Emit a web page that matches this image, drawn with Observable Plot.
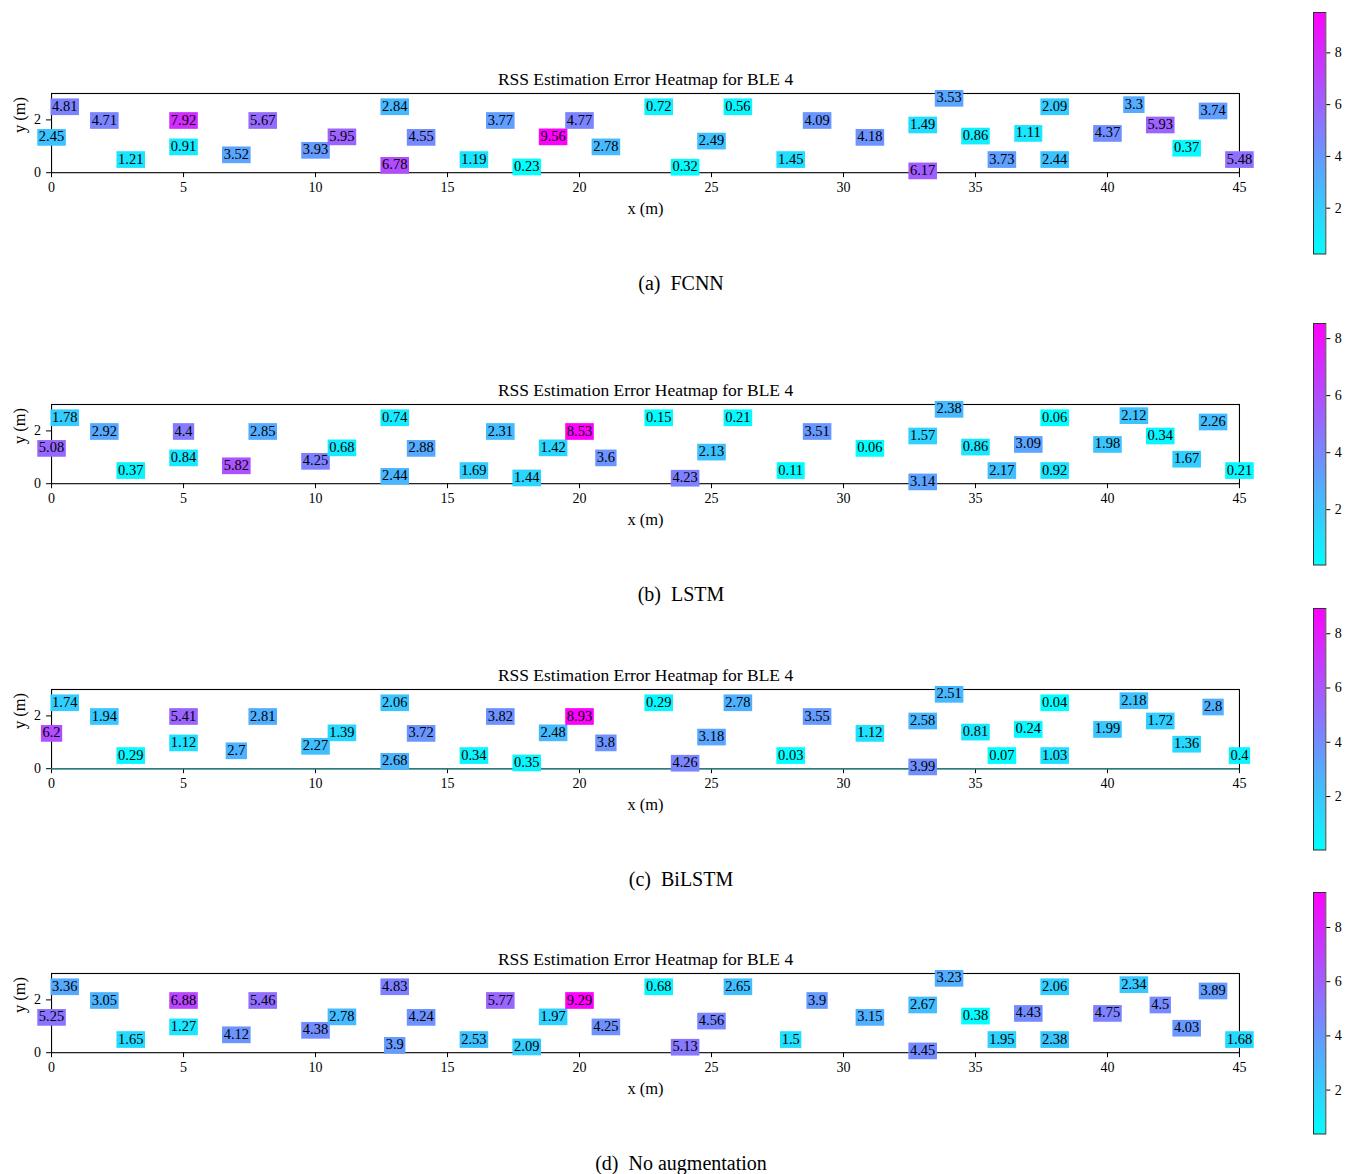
<!DOCTYPE html>
<html>
<head>
<meta charset="utf-8">
<script src="https://cdn.jsdelivr.net/npm/d3@7"></script>
<script src="https://cdn.jsdelivr.net/npm/@observablehq/plot@0.6"></script>
<style>
  body { margin: 0; background: #fff; }
  #fig { position: relative; width: 1347px; height: 1174px; background: #fff;
         font-family: "Liberation Serif", "Times New Roman", serif; color: #000; }
  .slot { position: absolute; }
  .slot svg { display: block; max-width: none; }
  .caption { position: absolute; font-size: 20px; white-space: pre; transform: translate(-50%, -50%); }
</style>
</head>
<body>
<div id="fig"></div>
<script>
// Test-point coordinates (metres), shared by all four models
const px = [0.5, 2, 0, 3, 5, 5, 7, 8, 10, 11, 13, 14, 13, 16, 17, 18, 19, 20, 21, 23,
            24, 25, 26, 28, 29, 31, 33, 33, 34, 35, 36, 37, 38, 38, 40, 41, 42, 43, 44, 45];
const py = [2.52, 2.0, 1.36, 0.52, 2.0, 1.0, 0.7, 2.0, 0.87, 1.38, 2.52, 1.36, 0.3, 0.52, 2.0, 0.24, 1.38, 2.0, 1.0, 2.52,
            0.23, 1.22, 2.52, 0.52, 2.0, 1.36, 1.83, 0.09, 2.84, 1.41, 0.52, 1.51, 2.52, 0.52, 1.51, 2.6, 1.83, 0.95, 2.36, 0.52];

// RSS estimation error per test point
const fcnn = [4.81, 4.71, 2.45, 1.21, 7.92, 0.91, 3.52, 5.67, 3.93, 5.95, 2.84, 4.55, 6.78, 1.19, 3.77, 0.23, 9.56, 4.77, 2.78, 0.72,
              0.32, 2.49, 0.56, 1.45, 4.09, 4.18, 1.49, 6.17, 3.53, 0.86, 3.73, 1.11, 2.09, 2.44, 4.37, 3.3, 5.93, 0.37, 3.74, 5.48];
const lstm = [1.78, 2.92, 5.08, 0.37, 4.4, 0.84, 5.82, 2.85, 4.25, 0.68, 0.74, 2.88, 2.44, 1.69, 2.31, 1.44, 1.42, 8.53, 3.6, 0.15,
              4.23, 2.13, 0.21, 0.11, 3.51, 0.06, 1.57, 3.14, 2.38, 0.86, 2.17, 3.09, 0.06, 0.92, 1.98, 2.12, 0.34, 1.67, 2.26, 0.21];
const bilstm = [1.74, 1.94, 6.2, 0.29, 5.41, 1.12, 2.7, 2.81, 2.27, 1.39, 2.06, 3.72, 2.68, 0.34, 3.82, 0.35, 2.48, 8.93, 3.8, 0.29,
                4.26, 3.18, 2.78, 0.03, 3.55, 1.12, 2.58, 3.99, 2.51, 0.81, 0.07, 0.24, 0.04, 1.03, 1.99, 2.18, 1.72, 1.36, 2.8, 0.4];
const noAug = [3.36, 3.05, 5.25, 1.65, 6.88, 1.27, 4.12, 5.46, 4.38, 2.78, 4.83, 4.24, 3.9, 2.53, 5.77, 2.09, 1.97, 9.29, 4.25, 0.68,
               5.13, 4.56, 2.65, 1.5, 3.9, 3.15, 2.67, 4.45, 3.23, 0.38, 1.95, 4.43, 2.06, 2.38, 4.75, 2.34, 4.5, 4.03, 3.89, 1.68];

const subLabels = ["(a)", "(b)", "(c)", "(d)"];
const modelNames = ["FCNN", "LSTM", "BiLSTM", "No augmentation"];
const seriesList = [fcnn, lstm, bilstm, noAug];

const xTicks = [0, 5, 10, 15, 20, 25, 30, 35, 40, 45];
const yTicks = [0, 2];
const cbarTicks = [2, 4, 6, 8];
const titleText = "RSS Estimation Error Heatmap for BLE 4";

// page layout
const axesTops = [93.3, 404, 689, 973.3];
const FONT = '"Liberation Serif", "Times New Roman", serif';
const M = {top: 40, bottom: 60, left: 51, right: 108};
const axesH = 79.2;
const coolRange = ["#00ffff", "#ff00ff"];
const boxFont = 14.5;
const tickFont = 14;

const fig = document.getElementById("fig");

// draws a filled box behind each label, using the mark's own color channel
function boxedLabels(labels, fs, padX, boxH) {
  const ctx = document.createElement("canvas").getContext("2d");
  ctx.font = `${fs}px "Liberation Serif"`;
  return (index, scales, values, dimensions, context, next) => {
    const g = next(index, scales, values, dimensions, context);
    const ns = "http://www.w3.org/2000/svg";
    const back = document.createElementNS(ns, "g");
    for (const i of index) {
      const w = ctx.measureText(labels[i]).width + 2 * padX;
      const r = document.createElementNS(ns, "rect");
      r.setAttribute("x", values.x[i] - w / 2);
      r.setAttribute("y", values.y[i] - boxH / 2 + 0.6);
      r.setAttribute("width", w);
      r.setAttribute("height", boxH);
      r.setAttribute("fill", values.fill[i]);
      back.appendChild(r);
    }
    for (const t of g.querySelectorAll("text")) t.setAttribute("fill", "#000");
    g.insertBefore(back, g.firstChild);
    return g;
  };
}

function place(el, left, top) {
  const d = document.createElement("div");
  d.className = "slot";
  d.style.left = left + "px";
  d.style.top = top + "px";
  d.appendChild(el);
  fig.appendChild(d);
}

const baseStyle = {fontFamily: FONT, fontSize: tickFont + "px", color: "#000", background: "transparent", overflow: "visible"};
const txt = d => String(d);

seriesList.forEach((vals, p) => {
  const T = axesTops[p];
  const labels = vals.map(String);
  const rows = vals.map((v, i) => ({x: px[i], y: py[i], v, label: labels[i]}));
  const ext = d3.extent(vals);
  const color = {type: "linear", domain: ext, range: coolRange, interpolate: d3.interpolateRgb};

  const main = Plot.plot({
    width: 1347,
    height: M.top + axesH + M.bottom,
    marginTop: M.top, marginBottom: M.bottom, marginLeft: M.left, marginRight: M.right,
    style: baseStyle,
    x: {domain: [0, 45]},
    y: {domain: [0, 3]},
    color,
    marks: [
      // tick marks, then tick labels
      Plot.axisX(xTicks, {tickSize: 5, tickFormat: () => "", label: null}),
      Plot.axisY(yTicks, {tickSize: 5, tickFormat: () => "", label: null}),
      Plot.text(xTicks, {x: d => d, frameAnchor: "bottom", lineAnchor: "top", dy: 9, text: txt, fontSize: tickFont, fontFamily: FONT}),
      Plot.text(yTicks, {y: d => d, frameAnchor: "left", textAnchor: "end", lineAnchor: "middle", dx: -10.5, text: txt, fontSize: tickFont, fontFamily: FONT}),
      Plot.frame({stroke: "#000", strokeWidth: 1.1}),
      p === 2 ? Plot.ruleY([0], {x1: 0, x2: 45, stroke: "#2a7d7d", strokeWidth: 1.6}) : null,
      Plot.text(rows, {
        x: "x", y: "y", text: "label", fill: "v",
        fontSize: boxFont, fontFamily: FONT,
        render: boxedLabels(labels, boxFont, 1.6, 16.7)
      }),
      Plot.text([titleText], {text: d => d, frameAnchor: "top", lineAnchor: "middle", dy: -14, fontSize: 17.5, fontFamily: FONT}),
      Plot.text(["x (m)"], {text: d => d, frameAnchor: "bottom", lineAnchor: "middle", dy: 36.5, fontSize: 16.5, fontFamily: FONT}),
      Plot.text(["y (m)"], {text: d => d, frameAnchor: "left", lineAnchor: "middle", dx: -32, rotate: -90, fontSize: 16.5, fontFamily: FONT})
    ]
  });
  place(main, 0, T - M.top);

  // vertical colorbar
  const n = 242;
  const slices = d3.range(n).map(k => ({
    lo: ext[0] + (ext[1] - ext[0]) * k / n,
    hi: ext[0] + (ext[1] - ext[0]) * (k + 1.05) / n,
    mid: ext[0] + (ext[1] - ext[0]) * (k + 0.5) / n
  }));
  const cbH = 241.5, cbW = 12.3, cbMT = 5, cbML = 13, cbTotal = 60;
  const cbar = Plot.plot({
    width: cbTotal, height: cbH + 2 * cbMT,
    marginTop: cbMT, marginBottom: cbMT, marginLeft: cbML, marginRight: cbTotal - cbML - cbW,
    style: baseStyle,
    x: {domain: [0, 1], axis: null},
    y: {domain: ext},
    color,
    marks: [
      Plot.rect(slices, {x1: 0, x2: 1, y1: "lo", y2: "hi", fill: "mid", shapeRendering: "crispEdges"}),
      Plot.frame({stroke: "#333", strokeWidth: 1}),
      Plot.axisY(cbarTicks, {anchor: "right", tickSize: 4, tickFormat: () => "", label: null}),
      Plot.text(cbarTicks, {y: d => d, frameAnchor: "right", textAnchor: "start", lineAnchor: "middle", dx: 9, text: txt, fontSize: tickFont, fontFamily: FONT})
    ]
  });
  place(cbar, 1313 - cbML, T - 81 - cbMT);

  const cap = document.createElement("div");
  cap.className = "caption";
  cap.style.left = "681px";
  cap.style.top = (T + 190) + "px";
  cap.textContent = `${subLabels[p]}  ${modelNames[p]}`;
  fig.appendChild(cap);
});
</script>
</body>
</html>
